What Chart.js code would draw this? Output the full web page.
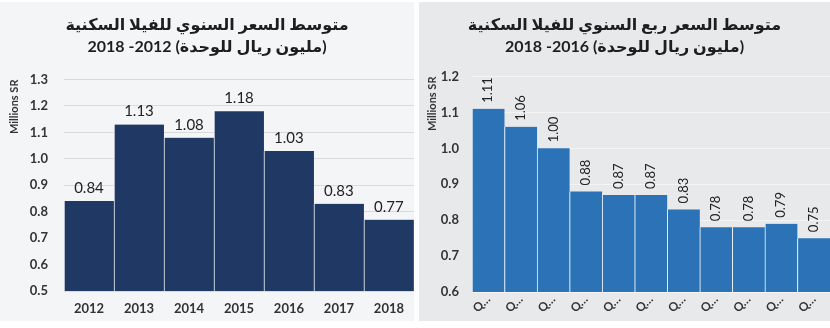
<!DOCTYPE html>
<html>
<head>
<meta charset="utf-8">
<script src="https://cdn.jsdelivr.net/npm/chart.js@4.4.1/dist/chart.umd.min.js"></script>
<style>
  body { margin: 0; background: #ffffff; width: 830px; height: 328px; position: relative; overflow: hidden; }
  .panel { position: absolute; top: 2px; height: 319px; }
  #leftPanel { left: 0; width: 414px; background: #f4f5f7; }
  #rightPanel { left: 419px; width: 411px; background: #e8e9eb; }
  canvas { display: block; }
</style>
</head>
<body>
<div class="panel" id="leftPanel"><canvas id="yearlyChart" dir="rtl" width="414" height="319"></canvas></div>
<div class="panel" id="rightPanel"><canvas id="quarterlyChart" dir="rtl" width="411" height="319"></canvas></div>

<script>
// yearly average villa price (millions SR)
const years = ['2012', '2013', '2014', '2015', '2016', '2017', '2018'];
const yearlyPrices = [0.84, 1.13, 1.08, 1.18, 1.03, 0.83, 0.77];
const yearlyTitle = ['متوسط السعر السنوي للفيلا السكنية', '(مليون ريال للوحدة) 2012- 2018'];

// quarterly average villa price (millions SR)
const quarters = ['Q1 2016', 'Q2 2016', 'Q3 2016', 'Q4 2016', 'Q1 2017', 'Q2 2017',
  'Q3 2017', 'Q4 2017', 'Q1 2018', 'Q2 2018', 'Q3 2018'];
const quarterlyPrices = [1.11, 1.06, 1.00, 0.88, 0.87, 0.87, 0.83, 0.78, 0.78, 0.79, 0.75];
const quarterlyTitle = ['متوسط السعر ربع السنوي للفيلا السكنية', '(مليون ريال للوحدة) 2016- 2018'];

const axisTitle = 'Millions SR';
const tickFont = { family: 'Lato, "DejaVu Sans", sans-serif', size: 13, weight: 'bold' };
const titleFont = { family: 'Lato, "DejaVu Sans", sans-serif', size: 16, weight: 'bold', lineHeight: 1.36 };

// writes the value above each bar (no datalabels plugin available)
const barValueLabels = {
  id: 'barValueLabels',
  afterDatasetsDraw(chart, args, opts) {
    const ctx = chart.ctx;
    const values = chart.data.datasets[0].data;
    ctx.save();
    ctx.fillStyle = opts.color;
    ctx.font = opts.font;
    chart.getDatasetMeta(0).data.forEach((bar, i) => {
      const text = values[i].toFixed(2);
      if (opts.vertical) {
        ctx.save();
        ctx.translate(bar.x, bar.y - opts.offset);
        ctx.rotate(-Math.PI / 2);
        ctx.textAlign = 'left';
        ctx.textBaseline = 'middle';
        ctx.fillText(text, 0, 0);
        ctx.restore();
      } else {
        ctx.textAlign = 'center';
        ctx.textBaseline = 'alphabetic';
        ctx.fillText(text, bar.x, bar.y - opts.offset);
      }
    });
    ctx.restore();
  }
};

const makeChart = (id, cfg) => {
  const ctx = document.getElementById(id).getContext('2d');
  return new Chart(ctx, {
    type: 'bar',
    data: {
      labels: cfg.labels,
      datasets: [
        {
          data: cfg.values,
          backgroundColor: cfg.barColor,
          borderColor: 'rgba(255, 255, 255, 0.75)',
          borderWidth: { left: 1, right: 0, top: 0, bottom: 0 },
          borderSkipped: false,
          categoryPercentage: 1,
          barPercentage: 1,
        },
      ],
    },
    options: {
      responsive: false,
      animation: false,
      layout: { padding: { left: 0, right: 0, top: 0, bottom: 0 } },
      plugins: {
        legend: { display: false },
        tooltip: { enabled: false },
        title: {
          display: true,
          text: cfg.title,
          color: '#1e1e1e',
          font: titleFont,
          padding: { top: 12, bottom: cfg.titleGap },
        },
        barValueLabels: cfg.valueLabels,
      },
      scales: {
        x: {
          grid: { display: false, drawTicks: false },
          border: { display: false },
          ticks: {
            color: '#333333',
            font: cfg.xFont,
            padding: cfg.xPad,
            autoSkip: false,
            minRotation: cfg.xRotation,
            maxRotation: cfg.xRotation,
            callback: cfg.xCallback,
          },
          afterFit: (s) => { s.height = cfg.xHeight; },
        },
        y: {
          min: cfg.yMin,
          max: cfg.yMax,
          grid: { color: cfg.gridColor, lineWidth: 1, drawTicks: false },
          border: { display: false },
          ticks: {
            stepSize: 0.1,
            color: '#333333',
            font: tickFont,
            padding: cfg.yPad,
            callback: (v) => v.toFixed(1),
          },
          title: {
            display: true,
            text: axisTitle,
            align: 'end',
            color: '#333333',
            font: { family: 'Lato, sans-serif', size: 11, weight: 'bold' },
            padding: { top: cfg.yTitlePad, bottom: 0 },
          },
          afterFit: (s) => { s.width = cfg.yWidth; },
        },
      },
    },
    plugins: [barValueLabels],
  });
};

makeChart('yearlyChart', {
  labels: years,
  values: yearlyPrices,
  title: yearlyTitle,
  titleGap: 22,
  barColor: '#203864',
  gridColor: '#d9dadc',
  yMin: 0.5,
  yMax: 1.3,
  yWidth: 64,
  yPad: 16,
  yTitlePad: 8,
  xHeight: 30,
  xPad: 10,
  xFont: tickFont,
  xRotation: 0,
  xCallback: function (v) { return this.getLabelForValue(v); },
  valueLabels: { color: '#222222', font: '15px Lato, sans-serif', offset: 8, vertical: false },
});

makeChart('quarterlyChart', {
  labels: quarters,
  values: quarterlyPrices,
  title: quarterlyTitle,
  titleGap: 19,
  barColor: '#2b73b6',
  gridColor: '#f4f4f5',
  yMin: 0.6,
  yMax: 1.2,
  yWidth: 53,
  yPad: 13,
  yTitlePad: 7,
  xHeight: 29,
  xPad: 0,
  xFont: { family: 'Lato, sans-serif', size: 12, weight: 'bold' },
  xRotation: 45,
  // the original axis shows the quarter names cut down to "Q…"
  // (LRM keeps the ellipsis after the Q inside the rtl canvas)
  xCallback: function (v) { return '\u200E' + this.getLabelForValue(v).charAt(0) + '…\u200E'; },
  valueLabels: { color: '#222222', font: '13px Lato, sans-serif', offset: 6, vertical: true },
});
</script>
</body>
</html>
